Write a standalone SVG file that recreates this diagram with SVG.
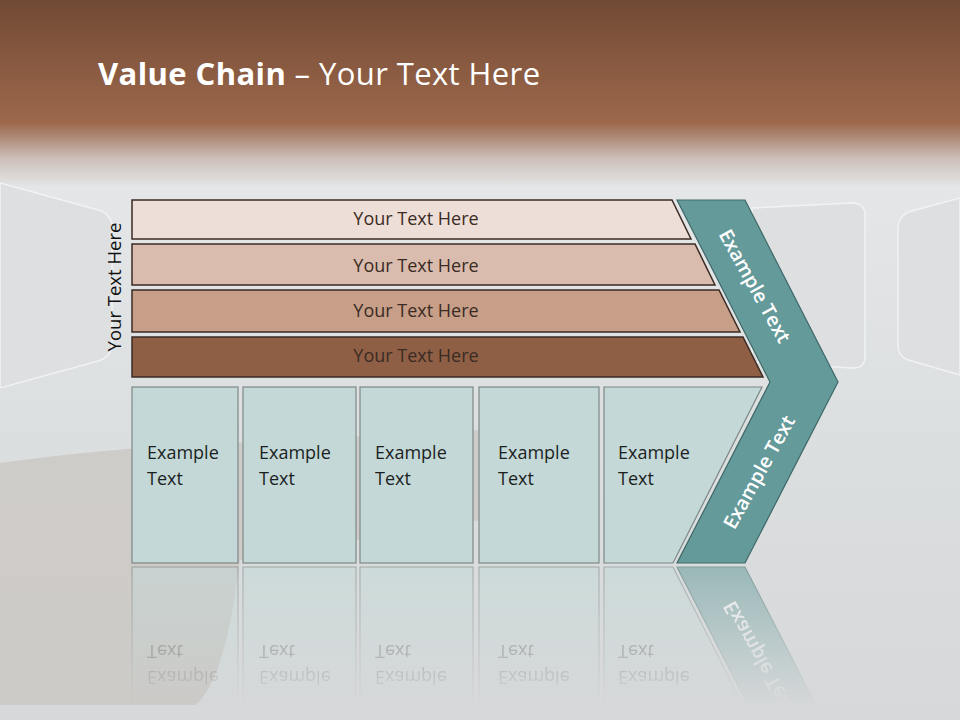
<svg xmlns="http://www.w3.org/2000/svg" xmlns:xlink="http://www.w3.org/1999/xlink" width="960" height="720" viewBox="0 0 960 720">
<defs>
<style>
.bar{stroke:#3b2b25;stroke-width:1.5}
.bartxt{font-family:"Open Sans","Liberation Sans",sans-serif;font-size:18px;fill:#3a2b24;text-anchor:middle}
.box{fill:#c3d8d7;stroke:#7d8888;stroke-width:1.2}
.boxtxt{font-family:"Open Sans","Liberation Sans",sans-serif;font-size:18px;fill:#1c1f1f}
.chevtxt{font-family:"Open Sans","Liberation Sans",sans-serif;font-size:19.5px;font-weight:600;fill:#ffffff;text-anchor:middle}
.panel{fill:#dddfe0;stroke:#f6f8f9;stroke-width:1.5;stroke-opacity:0.75}
</style>
<linearGradient id="bg" x1="0" y1="0" x2="0" y2="720" gradientUnits="userSpaceOnUse">
<stop offset="0" stop-color="#714a35"/>
<stop offset="0.17" stop-color="#9d684b"/>
<stop offset="0.185" stop-color="#a8806b"/>
<stop offset="0.22" stop-color="#cdbfb9"/>
<stop offset="0.26" stop-color="#e4e6e7"/>
<stop offset="0.6" stop-color="#dcdfe0"/>
<stop offset="1" stop-color="#d6d8d9"/>
</linearGradient>
<linearGradient id="fade" x1="0" y1="565" x2="0" y2="705" gradientUnits="userSpaceOnUse">
<stop offset="0" stop-color="#fff" stop-opacity="0.55"/>
<stop offset="1" stop-color="#fff" stop-opacity="0"/>
</linearGradient>
<mask id="reflMask" maskUnits="userSpaceOnUse" x="0" y="560" width="960" height="160">
<rect x="0" y="565" width="960" height="155" fill="url(#fade)"/>
</mask>
</defs>

<g id="background">
<rect x="0" y="0" width="960" height="720" fill="url(#bg)"/>
<path class="panel" d="M0,183 L98,210 Q112,214 112,228 L112,343 Q112,357 98,361 L0,388 Z"/>
<path class="panel" d="M752,208 L852,203 Q865,203 865,216 L865,356 Q865,369 852,368 L752,362 Z"/>
<path class="panel" d="M960,198 L912,211 Q898,215 898,229 L898,345 Q898,358 912,361 L960,375 Z"/>
<path d="M0,463 C50,456 100,451 140,448 L480,430 L480,520 L240,560 C232,620 222,680 196,705 L0,705 Z" fill="#cbc7c3" opacity="0.8"/>
</g>

<g id="title">
<text x="98" y="85" font-family="'Open Sans','Liberation Sans',sans-serif" font-size="31" letter-spacing="0.4" fill="#ffffff"><tspan font-weight="bold">Value Chain</tspan> – Your Text Here</text>
</g>

<g id="vlabel">
<text transform="translate(121,287) rotate(-90)" x="0" y="0" font-family="'Open Sans','Liberation Sans',sans-serif" font-size="18.5" fill="#111" text-anchor="middle">Your Text Here</text>
</g>

<g id="bars">
<g id="bar1"><polygon class="bar" points="132,200 672,200 691,239 132,239" fill="#eeded8"/><text class="bartxt" x="416" y="225">Your Text Here</text></g>
<g id="bar2"><polygon class="bar" points="132,244 695,244 715,285 132,285" fill="#d9bcad"/><text class="bartxt" x="416" y="272">Your Text Here</text></g>
<g id="bar3"><polygon class="bar" points="132,290 719,290 740,332 132,332" fill="#c79e87"/><text class="bartxt" x="416" y="317">Your Text Here</text></g>
<g id="bar4"><polygon class="bar" points="132,337 743,337 763,377 132,377" fill="#8f5f45"/><text class="bartxt" x="416" y="362">Your Text Here</text></g>
</g>

<g id="lower">
<g id="boxes">
<g id="box1"><rect class="box" x="132" y="387" width="106" height="176"/><text class="boxtxt" x="147" y="459">Example<tspan x="147" dy="26">Text</tspan></text></g>
<g id="box2"><rect class="box" x="243" y="387" width="113" height="176"/><text class="boxtxt" x="259" y="459">Example<tspan x="259" dy="26">Text</tspan></text></g>
<g id="box3"><rect class="box" x="360" y="387" width="113" height="176"/><text class="boxtxt" x="375" y="459">Example<tspan x="375" dy="26">Text</tspan></text></g>
<g id="box4"><rect class="box" x="479" y="387" width="120" height="176"/><text class="boxtxt" x="498" y="459">Example<tspan x="498" dy="26">Text</tspan></text></g>
<g id="box5"><polygon class="box" points="604,387 762,387 673,563 604,563"/><text class="boxtxt" x="618" y="459">Example<tspan x="618" dy="26">Text</tspan></text></g>
</g>
<g id="chevron">
<polygon points="677,200 745,200 838,382 745,563 677,563 770,382" fill="#659a9a" stroke="#3e6868" stroke-width="1.2"/>
<text class="chevtxt" transform="translate(755,286) rotate(61)" x="0" y="7">Example Text</text>
<text class="chevtxt" transform="translate(759,472) rotate(-61)" x="0" y="7">Example Text</text>
</g>
</g>

<g id="reflection" mask="url(#reflMask)">
<use xlink:href="#lower" transform="matrix(1,0,0,-1,0,1130)"/>
</g>

<g id="connectors"/>
</svg>
